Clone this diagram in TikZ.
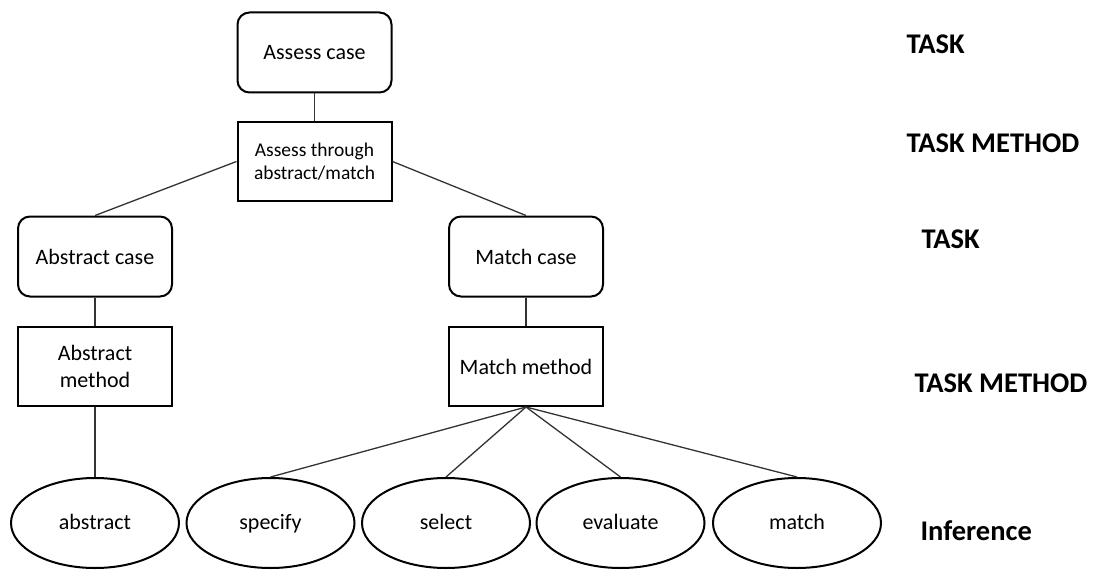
\documentclass[tikz,border=0pt]{standalone}
\usepackage{fontspec}
\setmainfont{Carlito}
\usetikzlibrary{shapes.geometric}
\begin{document}
\begin{tikzpicture}[x=1pt,y=-1pt,
  taskbox/.style={draw=black, line width=2pt, rounded corners=12pt,
    minimum width=154pt, minimum height=80pt, align=center,
    font=\fontsize{22}{27}\selectfont},
  methodbox/.style={draw=black, line width=2pt, rectangle,
    minimum width=154pt, minimum height=79pt, align=center,
    font=\fontsize{22}{27}\selectfont},
  infer/.style={draw=black, line width=2pt, ellipse,
    minimum width=168pt, minimum height=90pt, inner sep=0pt,
    text height=15pt, text depth=2pt,
    font=\fontsize{22}{26}\selectfont},
  level/.style={anchor=west, font=\fontsize{28.5}{30}\selectfont\bfseries},
  link/.style={draw=black!80, line width=1.3pt}]
  \useasboundingbox (0,0) rectangle (1094,575);

  % task / method hierarchy
  \node[taskbox]   (assess)   at (314.5,52.5)  {Assess case};
  \node[methodbox, font=\fontsize{19.5}{23}\selectfont]
                   (through)  at (314.5,161.5) {Assess through\\abstract/match};
  \node[taskbox]   (acase)    at (95,256.5)    {Abstract case};
  \node[taskbox]   (mcase)    at (526,256.5)   {Match case};
  \node[methodbox] (amethod)  at (95,366.5)    {Abstract\\method};
  \node[methodbox] (mmethod)  at (526,366.5)   {Match method};

  % inferences
  \node[infer] (iabstract) at (95,523)    {abstract};
  \node[infer] (ispecify)  at (270.5,523) {specify};
  \node[infer] (iselect)   at (446,523)   {select};
  \node[infer] (ievaluate) at (620.5,523) {evaluate};
  \node[infer] (imatch)    at (797,523)   {match};

  % level labels
  \node[level] (l1) at (903,44)  {TASK};
  \node[level] (l2) at (903,143) {TASK METHOD};
  \node[level] (l3) at (918,239) {TASK};
  \node[level] (l4) at (911,383) {TASK METHOD};
  \node[level] (l5) at (917,531) {Inference};

  % connectors
  \draw[link] (assess.south) -- (through.north);
  \draw[link] (through.west) -- (acase.north);
  \draw[link] (through.east) -- (mcase.north);
  \draw[link] (acase.south) -- (amethod.north);
  \draw[link] (mcase.south) -- (mmethod.north);
  \draw[link] (amethod.south) -- (iabstract.north);
  \foreach \e in {ispecify,iselect,ievaluate,imatch}
    \draw[link] (mmethod.south) -- (\e.north);
\end{tikzpicture}
\end{document}
